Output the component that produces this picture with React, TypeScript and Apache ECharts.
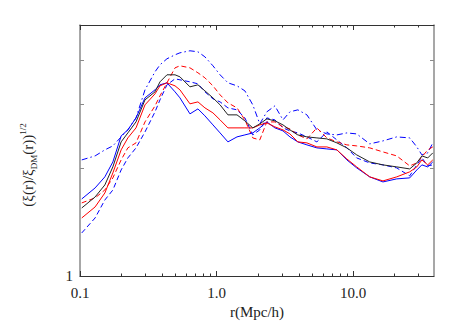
import React, { useEffect, useRef } from "react";
import * as echarts from "echarts";

// separation r (Mpc/h)
const rValues = [
  0.103, 0.129, 0.152, 0.174, 0.2, 0.224, 0.257, 0.299, 0.354, 0.385, 0.433, 0.496, 0.539, 0.638,
  0.73, 0.821, 0.94, 1.06, 1.21, 1.41, 1.61, 1.84, 2.07, 2.33, 2.67, 3.06, 3.44, 3.93, 4.58, 5.42,
  6.41, 7.59, 8.98, 10.6, 13.2, 16.5, 20.8, 25.9, 29.2, 31.8, 35.1, 38.2,
];

const blackSolid = [
  1.547, 1.66, 1.793, 2.013, 2.363, 2.503, 2.686, 3.094, 3.257, 3.473, 3.633, 3.633, 3.586, 3.363,
  3.407, 3.278, 3.134, 2.996, 2.81, 2.81, 2.704, 2.585, 2.652, 2.739, 2.704, 2.635, 2.552, 2.471,
  2.44, 2.424, 2.409, 2.348, 2.274, 2.174, 2.078, 2.039, 2.013, 1.987, 2.065, 2.16, 2.132, 2.202,
];

const redSolid = [
  1.451, 1.557, 1.703, 1.937, 2.245, 2.424, 2.585, 2.996, 3.215, 3.385, 3.451, 3.385, 3.299, 3.016,
  3.054, 2.939, 2.846, 2.721, 2.585, 2.585, 2.585, 2.585, 2.635, 2.669, 2.602, 2.552, 2.487, 2.363,
  2.348, 2.288, 2.288, 2.245, 2.118, 2.013, 1.888, 1.84, 1.888, 1.95, 2.013, 2.105, 2.039, 2.105,
];

const blueSolid = [
  1.639, 1.759, 1.888, 2.078, 2.455, 2.552, 2.756, 3.134, 3.299, 3.407, 3.451, 3.257, 3.134, 2.828,
  2.92, 2.792, 2.635, 2.503, 2.363, 2.44, 2.471, 2.503, 2.585, 2.686, 2.585, 2.536, 2.44, 2.363,
  2.318, 2.274, 2.259, 2.245, 2.105, 2.0, 1.888, 1.828, 1.864, 1.876, 1.974, 2.039, 2.013, 2.078,
];

const redDashed = [
  1.598, 1.65, 1.736, 1.876, 2.105, 2.274, 2.348, 2.686, 2.977, 3.174, 3.451, 3.799, 3.849, 3.799,
  3.68, 3.563, 3.385, 3.195, 3.035, 2.939, 2.721, 2.424, 2.393, 2.686, 2.686, 2.602, 2.569, 2.471,
  2.409, 2.585, 2.424, 2.363, 2.318, 2.303, 2.274, 2.216, 2.16, 2.026, 2.065, 2.146, 2.245, 2.288,
];

const blueDashed = [
  1.318, 1.451, 1.628, 1.736, 1.974, 2.132, 2.274, 2.519, 2.865, 3.094, 3.407, 3.54, 3.518, 3.473,
  3.429, 3.257, 3.114, 3.054, 2.939, 2.902, 2.756, 2.471, 2.552, 2.756, 2.721, 2.585, 2.536, 2.503,
  2.44, 2.363, 2.519, 2.393, 2.274, 2.132, 2.065, 2.039, 2.0, 1.9, 2.039, 2.132, 2.026, 2.039,
];

const blueDashDot = [
  2.105, 2.16, 2.245, 2.303, 2.44, 2.552, 2.756, 3.299, 3.703, 3.874, 4.026, 4.13, 4.183, 4.238,
  4.211, 4.076, 3.849, 3.633, 3.451, 3.385, 3.278, 2.996, 2.652, 2.865, 2.977, 2.721, 2.865, 2.902,
  2.81, 2.552, 2.487, 2.471, 2.503, 2.487, 2.333, 2.378, 2.44, 2.424, 2.288, 2.174, 2.202, 2.348,
];

const xMajorTicks = [0.1, 1, 10];
const xMajorLabels = ["0.1", "1.0", "10.0"];
const xMinorTicks = [0.2, 0.3, 0.4, 0.5, 0.6, 0.7, 0.8, 0.9, 2, 3, 4, 5, 6, 7, 8, 9, 20, 30];
const yTicks = [2, 3, 4];
const yLabels = [1];

const FONT = "Liberation Serif";
const AXIS_DARK = "#333";
const AXIS_GRAY = "#8a8a8a";

export default function App() {
  const ref = useRef<HTMLDivElement>(null);
  useEffect(() => {
    if (!ref.current) return;
    const chart = echarts.init(ref.current, null, { renderer: "svg" });
    const xBase = {
      type: "log" as const,
      logBase: 10,
      min: 0.1,
      max: 39,
      gridIndex: 0,
      splitLine: { show: false },
      minorTick: { show: false },
      minorSplitLine: { show: false },
    };
    const yBase = {
      type: "log" as const,
      logBase: 10,
      min: 1,
      max: 5,
      splitLine: { show: false },
      minorTick: { show: false },
      minorSplitLine: { show: false },
    };
    const mk = (name: string, data: number[], color: string, type: any) => ({
      name,
      type: "line",
      xAxisIndex: 0,
      yAxisIndex: 0,
      data: rValues.map((r, i) => [r, data[i]]),
      showSymbol: false,
      symbol: "none",
      lineStyle: { color, width: 1, type },
      emphasis: { disabled: true },
    });
    chart.setOption({
      animation: false,
      backgroundColor: "#fff",
      grid: { left: 80, right: 24, top: 25, bottom: 51, containLabel: false },
      xAxis: [
        {
          ...xBase,
          position: "bottom",
          axisLine: { show: true, lineStyle: { color: AXIS_DARK, width: 1 } },
          axisTick: {
            show: true,
            inside: true,
            length: 5,
            customValues: xMajorTicks,
            lineStyle: { color: AXIS_DARK },
          },
          axisLabel: {
            show: true,
            customValues: xMajorTicks,
            margin: 9,
            fontFamily: FONT,
            fontSize: 15,
            color: "#222",
            formatter: (v: number) => xMajorLabels[Math.round(Math.log10(v)) + 1],
          },
          name: "r(Mpc/h)",
          nameLocation: "middle",
          nameGap: 24,
          nameTextStyle: { fontFamily: FONT, fontSize: 15, color: "#222" },
        },
        {
          ...xBase,
          position: "bottom",
          axisLine: { show: false },
          axisLabel: { show: false },
          axisTick: {
            show: true,
            inside: true,
            length: 2.5,
            customValues: xMinorTicks,
            lineStyle: { color: AXIS_DARK },
          },
        },
        {
          ...xBase,
          position: "top",
          axisLine: { show: true, lineStyle: { color: AXIS_DARK, width: 1 } },
          axisLabel: { show: false },
          axisTick: {
            show: true,
            inside: true,
            length: 5,
            customValues: xMajorTicks,
            lineStyle: { color: AXIS_DARK },
          },
        },
        {
          ...xBase,
          position: "top",
          axisLine: { show: false },
          axisLabel: { show: false },
          axisTick: {
            show: true,
            inside: true,
            length: 2.5,
            customValues: xMinorTicks,
            lineStyle: { color: AXIS_DARK },
          },
        },
      ],
      yAxis: [
        {
          ...yBase,
          position: "left",
          axisLine: { show: true, lineStyle: { color: AXIS_GRAY, width: 1.5 } },
          axisTick: {
            show: true,
            inside: true,
            length: 4,
            customValues: yTicks,
            lineStyle: { color: AXIS_GRAY },
          },
          axisLabel: {
            show: true,
            customValues: yLabels,
            margin: 7,
            fontFamily: FONT,
            fontSize: 15,
            color: "#222",
            formatter: (v: number) => String(Math.round(v)),
          },
        },
        {
          ...yBase,
          position: "right",
          axisLine: { show: true, lineStyle: { color: AXIS_GRAY, width: 1.5 } },
          axisLabel: { show: false },
          axisTick: {
            show: true,
            inside: true,
            length: 4,
            customValues: yTicks,
            lineStyle: { color: AXIS_GRAY },
          },
        },
      ],
      graphic: [
        {
          type: "text",
          x: 28,
          y: 165,
          rotation: Math.PI / 2,
          style: {
            text: "{a|(ξ(r)/ξ}{sub|DM}{a|(r))}{sup|1/2}",
            align: "center",
            verticalAlign: "middle",
            fill: "#222",
            rich: {
              a: { fontFamily: FONT, fontSize: 15, lineHeight: 20, fill: "#222" },
              sub: { fontFamily: FONT, fontSize: 9, verticalAlign: "bottom", lineHeight: 20, fill: "#222" },
              sup: { fontFamily: FONT, fontSize: 9, verticalAlign: "top", lineHeight: 20, fill: "#222" },
            },
          },
        },
      ],
      series: [
        mk("blueDashDot", blueDashDot, "#0000ff", [6, 3, 1.5, 3]),
        mk("blueDashed", blueDashed, "#0000ff", [5, 3]),
        mk("redDashed", redDashed, "#ff0000", [5, 3]),
        mk("blueSolid", blueSolid, "#0000ff", "solid"),
        mk("redSolid", redSolid, "#ff0000", "solid"),
        mk("blackSolid", blackSolid, "#222222", "solid"),
      ],
    });
    return () => chart.dispose();
  }, []);
  return (
    <div
      ref={ref}
      style={{ position: "absolute", left: 0, top: 0, width: 458, height: 327 }}
    />
  );
}
